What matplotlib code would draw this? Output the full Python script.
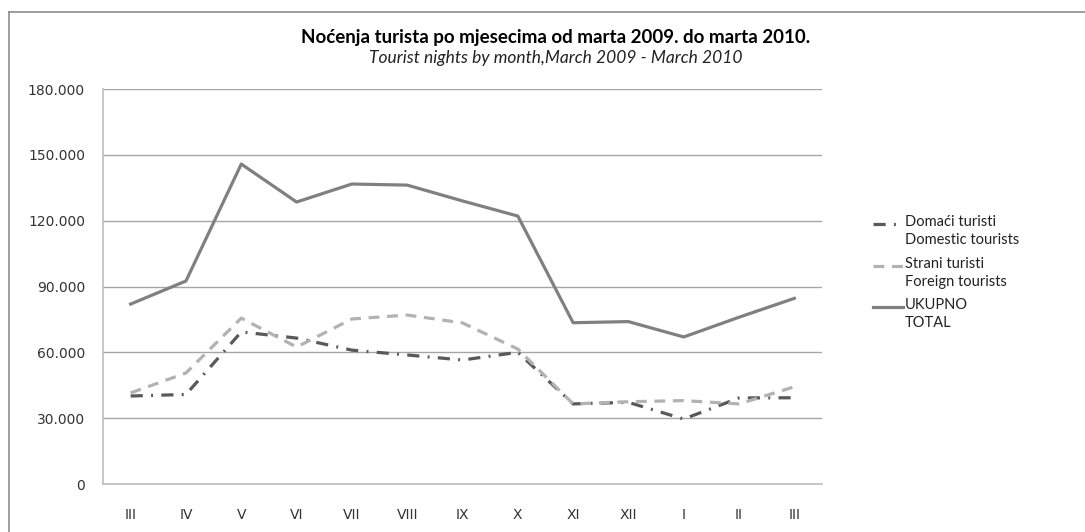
import matplotlib.pyplot as plt
from matplotlib.lines import Line2D

months = ['III', 'IV', 'V', 'VI', 'VII', 'VIII', 'IX', 'X', 'XI', 'XII', 'I', 'II', 'III']
domestic = [40100, 40800, 69300, 66500, 61000, 58800, 56500, 60000, 36500, 37200, 29600, 39200, 39300]
foreign = [41500, 50600, 75600, 62400, 75200, 77000, 73400, 61500, 36500, 37500, 38000, 36500, 44300]
total = [82000, 92500, 145800, 128500, 136700, 136200, 129000, 122100, 73500, 74000, 67000, 76000, 84600]

yticks = [0, 30000, 60000, 90000, 120000, 150000, 180000]
ytick_labels = ['0', '30.000', '60.000', '90.000', '120.000', '150.000', '180.000']

fig = plt.figure(figsize=(10.85, 5.32), dpi=100)
ax = fig.add_axes([103 / 1085, 1 - 484 / 532, 719 / 1085, 395 / 532])

x = list(range(len(months)))
styles = [
    ('Domaći turisti\nDomestic tourists', domestic, '#595959', (3.8, 2.6, 0.6, 2.6)),
    ('Strani turisti\nForeign tourists', foreign, '#b2b2b2', (3.4, 2.4)),
    ('UKUPNO\nTOTAL', total, '#808080', None),
]
for label, vals, col, dash in styles:
    line, = ax.plot(x, vals, color=col, lw=2.3, label=label)
    if dash:
        line.set_dashes(dash)

ax.set_xlim(-0.5, len(months) - 0.5)
ax.set_ylim(0, 180000)
ax.set_xticks(x)
ax.set_xticklabels(months)
ax.set_yticks(yticks)
ax.set_yticklabels(ytick_labels)
ax.tick_params(axis='both', length=0, labelsize=10, colors='#333333')
ax.tick_params(axis='y', pad=13)
ax.tick_params(axis='x', pad=17)
ax.grid(axis='y', color='#a6a6a6', lw=1)
ax.set_axisbelow(True)
for s in ['top', 'right']:
    ax.spines[s].set_visible(False)
for s in ['left', 'bottom']:
    ax.spines[s].set_color('#bdbdbd')
    ax.spines[s].set_linewidth(1.2)

# legend drawn by hand so the handle sits next to the first text line
leg_y = [224, 266, 307]
for (label, vals, col, dash), yy in zip(styles, leg_y):
    yf = 1 - yy / 532
    h = Line2D([873 / 1085, 903 / 1085], [yf, yf], transform=fig.transFigure, color=col, lw=2.3)
    if dash:
        h.set_dashes(dash)
    fig.add_artist(h)
    fig.text(905 / 1085, yf + 9 / 532, label, ha='left', va='top', fontsize=10.5,
             family='Lato', color='#222222', linespacing=1.35)

fig.text(0.512, 1 - 38 / 532, 'Noćenja turista po mjesecima od marta 2009. do marta 2010.',
         ha='center', va='center', fontsize=13.5, fontweight='bold', family='Lato')
fig.text(0.512, 1 - 58 / 532, 'Tourist nights by month,March 2009 - March 2010',
         ha='center', va='center', fontsize=12.5, style='italic', family='Lato', color='#222222')

# chart frame
fig.add_artist(Line2D([9 / 1085, 9 / 1085], [0, 1 - 12 / 532], transform=fig.transFigure,
                      color='#8c8c8c', lw=1.2))
fig.add_artist(Line2D([9 / 1085, 1], [1 - 12 / 532, 1 - 12 / 532], transform=fig.transFigure,
                      color='#8c8c8c', lw=1.2))

fig.savefig('out.png', dpi=100)
